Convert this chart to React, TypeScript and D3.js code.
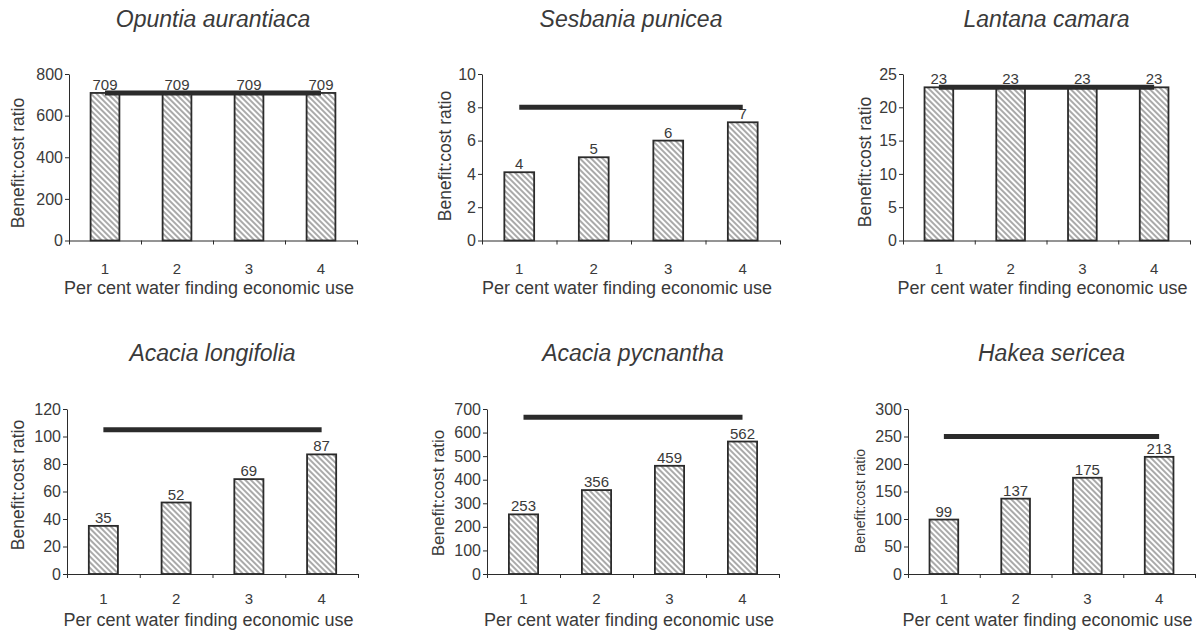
import React, { useEffect, useRef } from "react";
import * as d3 from "d3";

// ---- data ----
const categories = ["1", "2", "3", "4"];
const speciesNames = [
  "Opuntia aurantiaca",
  "Sesbania punicea",
  "Lantana camara",
  "Acacia longifolia",
  "Acacia pycnantha",
  "Hakea sericea",
];
const opuntiaValues = [709, 709, 709, 709];
const sesbaniaValues = [4.1, 5, 6, 7.1];
const lantanaValues = [23, 23, 23, 23];
const longifoliaValues = [35, 52, 69, 87];
const pycnanthaValues = [253, 356, 459, 562];
const hakeaValues = [99, 137, 175, 213];
const seriesValues = [opuntiaValues, sesbaniaValues, lantanaValues, longifoliaValues, pycnanthaValues, hakeaValues];
const referenceLine = [709, 8, 23, 105, 665, 250];
const yMax = [800, 10, 25, 120, 700, 300];
const yStep = [200, 2, 5, 20, 100, 50];
const yLabel = "Benefit:cost ratio";
const xLabel = "Per cent water finding economic use";

// ---- layout (pixels) ----
const layout = [
  { x0: 69, x1: 357, top: 74, bottom: 240.5, titleY: 27, catY: 273.5, xTitleY: 294, yTX: 18, yTY: 163, yTSize: 17.5 },
  { x0: 482, x1: 780, top: 74, bottom: 240.5, titleY: 27, catY: 273.5, xTitleY: 294, yTX: 445, yTY: 156, yTSize: 17.5 },
  { x0: 903, x1: 1190, top: 74, bottom: 240.5, titleY: 27, catY: 273.5, xTitleY: 294, yTX: 865, yTY: 162, yTSize: 17.5 },
  { x0: 67, x1: 358, top: 409, bottom: 574, titleY: 361, catY: 603.5, xTitleY: 626, yTX: 18, yTY: 485, yTSize: 17.5 },
  { x0: 487, x1: 779, top: 409, bottom: 574, titleY: 361, catY: 603.5, xTitleY: 626, yTX: 438, yTY: 493, yTSize: 17 },
  { x0: 908, x1: 1195, top: 409, bottom: 574, titleY: 361, catY: 603.5, xTitleY: 626, yTX: 860, yTY: 501, yTSize: 14 },
];

const FONT = "'Liberation Sans', Arial, sans-serif";
const TEXT = "#3a3a3a";
const INK = "#2b2b2b";

export default function App() {
  const ref = useRef<SVGSVGElement | null>(null);

  useEffect(() => {
    document.body.style.margin = "0";
    const svg = d3.select(ref.current);
    svg.selectAll("*").remove();

    const defs = svg.append("defs");
    const pat = defs
      .append("pattern")
      .attr("id", "hatch")
      .attr("patternUnits", "userSpaceOnUse")
      .attr("width", 4)
      .attr("height", 4)
      .attr("patternTransform", "rotate(45)");
    pat.append("rect").attr("width", 4).attr("height", 4).attr("fill", "#fff");
    pat
      .append("line")
      .attr("x1", 0)
      .attr("x2", 4)
      .attr("y1", 2)
      .attr("y2", 2)
      .attr("stroke", "#555")
      .attr("stroke-width", 1);

    svg.append("rect").attr("width", 1199).attr("height", 635).attr("fill", "#fff");

    seriesValues.forEach((vals, i) => {
      const L = layout[i];
      const g = svg.append("g");
      const x = d3
        .scaleBand<string>()
        .domain(categories)
        .range([L.x0, L.x1])
        .paddingInner(0.6)
        .paddingOuter(0.3);
      const xb = d3.scaleLinear().domain([0, categories.length]).range([L.x0, L.x1]);
      const y = d3.scaleLinear().domain([0, yMax[i]]).range([L.bottom, L.top]);
      const ticks = d3.range(0, yMax[i] + yStep[i] / 2, yStep[i]);

      // bars
      g.selectAll("rect.bar")
        .data(vals)
        .join("rect")
        .attr("class", "bar")
        .attr("x", (_, j) => x(categories[j])!)
        .attr("width", x.bandwidth())
        .attr("y", (d) => y(d))
        .attr("height", (d) => y(0) - y(d))
        .attr("fill", "url(#hatch)")
        .attr("stroke", INK)
        .attr("stroke-width", 1.8);

      // value labels
      g.selectAll("text.val")
        .data(vals)
        .join("text")
        .attr("class", "val")
        .attr("x", (_, j) => x(categories[j])! + x.bandwidth() / 2)
        .attr("y", (d) => y(d) - 3)
        .attr("text-anchor", "middle")
        .attr("font-family", FONT)
        .attr("font-size", 15)
        .attr("fill", TEXT)
        .text((d) => d3.format(".0f")(d));

      // reference line
      const c1 = x(categories[0])! + x.bandwidth() / 2;
      const c4 = x(categories[categories.length - 1])! + x.bandwidth() / 2;
      g.append("line")
        .attr("x1", c1)
        .attr("x2", c4)
        .attr("y1", y(referenceLine[i]))
        .attr("y2", y(referenceLine[i]))
        .attr("stroke", INK)
        .attr("stroke-width", 5);

      // y axis
      const ya = g
        .append("g")
        .attr("transform", `translate(${L.x0},0)`)
        .call(d3.axisLeft(y).tickValues(ticks).tickSize(4).tickSizeOuter(0).tickPadding(2).tickFormat(d3.format("d")));
      ya.select(".domain").attr("stroke", INK);
      ya.selectAll(".tick line").attr("stroke", INK);
      ya.selectAll(".tick text").attr("font-family", FONT).attr("font-size", 16).attr("fill", TEXT);

      // x axis: tick marks at category boundaries
      const xa = g
        .append("g")
        .attr("transform", `translate(0,${L.bottom})`)
        .call(d3.axisBottom(xb).tickValues(d3.range(0, categories.length + 1)).tickSize(4).tickSizeOuter(0).tickFormat(() => ""));
      xa.select(".domain").attr("stroke", INK);
      xa.selectAll(".tick line").attr("stroke", INK);

      // x category labels
      g.selectAll("text.cat")
        .data(categories)
        .join("text")
        .attr("class", "cat")
        .attr("x", (d) => x(d)! + x.bandwidth() / 2)
        .attr("y", L.catY)
        .attr("text-anchor", "middle")
        .attr("font-family", FONT)
        .attr("font-size", 15)
        .attr("fill", TEXT)
        .text((d) => d);

      // x title
      g.append("text")
        .attr("x", (L.x0 + L.x1) / 2 - 4)
        .attr("y", L.xTitleY)
        .attr("text-anchor", "middle")
        .attr("font-family", FONT)
        .attr("font-size", 18)
        .attr("fill", TEXT)
        .text(xLabel);

      // y title
      g.append("text")
        .attr("transform", `translate(${L.yTX},${L.yTY}) rotate(-90)`)
        .attr("text-anchor", "middle")
        .attr("dy", "0.35em")
        .attr("font-family", FONT)
        .attr("font-size", L.yTSize)
        .attr("fill", TEXT)
        .text(yLabel);

      // species title
      g.append("text")
        .attr("x", (L.x0 + L.x1) / 2)
        .attr("y", L.titleY)
        .attr("text-anchor", "middle")
        .attr("font-family", FONT)
        .attr("font-style", "italic")
        .attr("font-size", 23)
        .attr("fill", TEXT)
        .text(speciesNames[i]);
    });
  }, []);

  return (
    <svg
      ref={ref}
      width={1199}
      height={635}
      style={{ position: "absolute", left: 0, top: 0, display: "block" }}
    />
  );
}
